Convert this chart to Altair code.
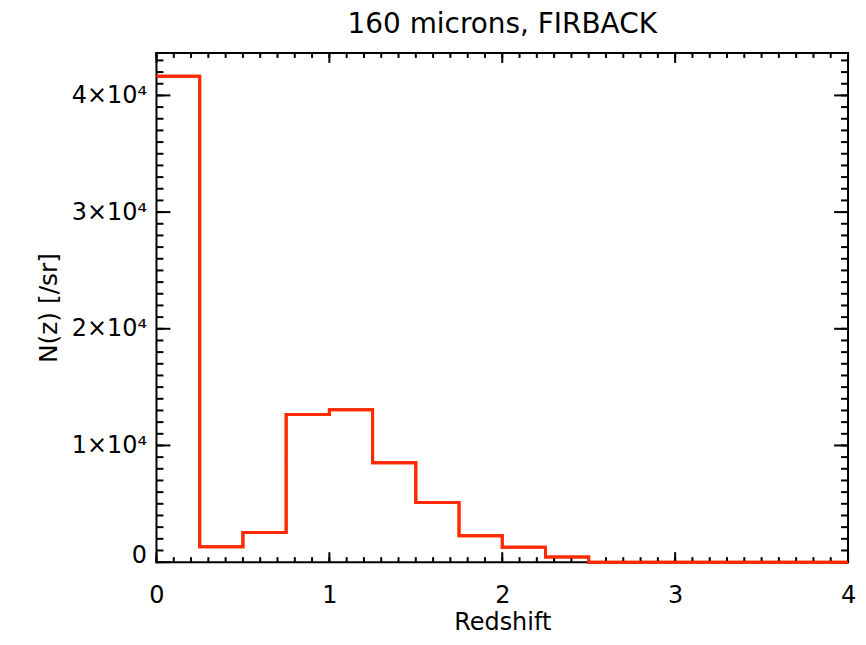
import altair as alt
import pandas as pd

# ---- data ----
bin_left = [0.0, 0.25, 0.5, 0.75, 1.0, 1.25, 1.5, 1.75, 2.0, 2.25, 2.5, 2.75, 3.0, 3.25, 3.5, 3.75]
n_z = [41650, 1320, 2550, 12650, 13070, 8520, 5110, 2260, 1270, 440, 0, 0, 0, 0, 0, 0]
x_end = 4.0

x_major = [0, 1, 2, 3, 4]
x_minor = [round(i * 0.1, 1) for i in range(41)]
y_major = [0, 10000, 20000, 30000, 40000]
y_minor = [i * 1000 for i in range(44)]

title_text = "160 microns, FIRBACK"
x_title = "Redshift"
y_title = "N(z) [/sr]"

FONT = "DejaVu Sans"
W, H = 694, 511
RED = "#ff2a00"
MAJ_X, MIN_X = 10, 5     # tick lengths on x axes
MAJ_Y, MIN_Y = 14, 7     # tick lengths on y axes

xs = alt.Scale(domain=[0, 4], nice=False, zero=False)
ys = alt.Scale(domain=[0, 43640], nice=False, zero=False)

x_axis = alt.Axis(
    values=x_major, format="d", title=x_title, ticks=False, tickSize=0, domain=False, grid=False,
    labelPadding=21, labelFlush=False, labelFont=FONT, labelFontSize=24, labelColor="black",
    titleFont=FONT, titleFontSize=24, titleFontWeight="normal", titleColor="black", titlePadding=4)
y_axis = alt.Axis(
    values=y_major, title=y_title, ticks=False, tickSize=0, domain=False, grid=False,
    labelExpr="datum.value == 0 ? '0' : format(datum.value / 10000, 'd') + '×10⁴'",
    labelBaseline={"condition": {"test": "datum.value === 0", "value": "alphabetic"}, "value": "middle"},
    labelPadding=10, labelFlush=False, labelFont=FONT, labelFontSize=24, labelColor="black",
    titleFont=FONT, titleFontSize=25, titleFontWeight="normal", titleColor="black", titlePadding=10)

step = pd.DataFrame({"z": bin_left + [x_end], "n": n_z + [n_z[-1]]})
one = pd.DataFrame({"d": [0]})

# ---- frame ----
frame_style = dict(color="black", strokeWidth=2, strokeCap="square")
left = alt.Chart(one).mark_rule(**frame_style).encode(x=alt.value(0), y=alt.value(0), y2=alt.value(H))
right = alt.Chart(one).mark_rule(**frame_style).encode(x=alt.value(W), y=alt.value(0), y2=alt.value(H))
top = alt.Chart(one).mark_rule(**frame_style).encode(y=alt.value(0), x=alt.value(0), x2=alt.value(W))
bottom = alt.Chart(one).mark_rule(**frame_style).encode(y=alt.value(H), x=alt.value(0), x2=alt.value(W))

# ---- inward ticks ----
tick_style = dict(color="black", strokeWidth=2)


def xticks(values, length):
    df = pd.DataFrame({"z": values})
    b = alt.Chart(df).mark_rule(**tick_style).encode(
        x=alt.X("z:Q", scale=xs, axis=x_axis), y=alt.value(H), y2=alt.value(H - length))
    t = alt.Chart(df).mark_rule(**tick_style).encode(
        x=alt.X("z:Q", scale=xs, axis=x_axis), y=alt.value(0), y2=alt.value(length))
    return [b, t]


def yticks(values, length):
    df = pd.DataFrame({"n": values})
    l = alt.Chart(df).mark_rule(**tick_style).encode(
        y=alt.Y("n:Q", scale=ys, axis=y_axis), x=alt.value(0), x2=alt.value(length))
    r = alt.Chart(df).mark_rule(**tick_style).encode(
        y=alt.Y("n:Q", scale=ys, axis=y_axis), x=alt.value(W), x2=alt.value(W - length))
    return [l, r]


ticks = xticks(x_minor, MIN_X) + xticks(x_major, MAJ_X) + yticks(y_minor, MIN_Y) + yticks(y_major, MAJ_Y)

# ---- title as text ----
title = alt.Chart(pd.DataFrame({"t": [title_text]})).mark_text(
    font=FONT, fontSize=28, color="black", align="center", baseline="alphabetic"
).encode(text="t:N", x=alt.value(W / 2), y=alt.value(-20))

# ---- histogram line ----
line = alt.Chart(step).mark_line(interpolate="step-after", color=RED, strokeWidth=3).encode(
    x=alt.X("z:Q", scale=xs, axis=x_axis),
    y=alt.Y("n:Q", scale=ys, axis=y_axis),
)

chart = alt.layer(line, left, right, top, bottom, *ticks, title, line).properties(
    width=W, height=H,
    background="white",
    autosize=alt.AutoSizeParams(type="none"),
    padding={"left": 149, "top": 44, "right": 10, "bottom": 72},
).configure_view(stroke=None)

chart.save("out.html", embed_options={"renderer": "svg", "actions": False})
